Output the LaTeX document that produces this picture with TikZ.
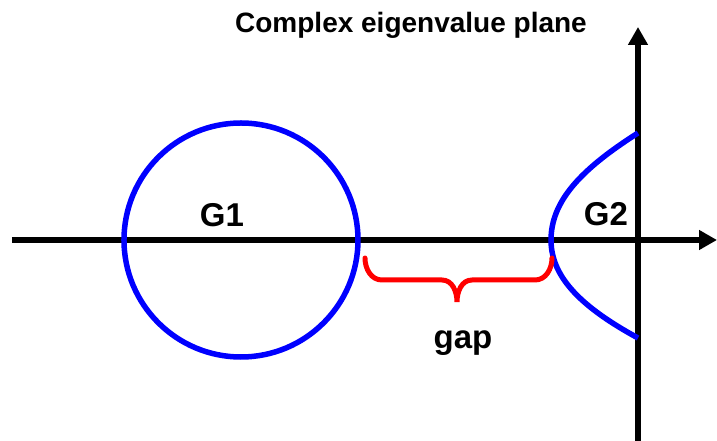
\documentclass[tikz,border=0pt]{standalone}
\usepackage{fontspec}
\setmainfont{Liberation Sans}
\usetikzlibrary{arrows.meta}
\begin{document}
\begin{tikzpicture}[x=1pt, y=1pt,
    axis/.style={line width=6pt, -{Triangle[length=18pt, width=19pt]}},
    region/.style={blue, line width=5.5pt},
    gapbrace/.style={red, line width=5pt, line cap=round},
    lbl/.style={font=\bfseries\fontsize{33}{35}\selectfont, anchor=base, inner sep=0pt}]
    \useasboundingbox (-638,-201) rectangle (79,240);

    % Axes
    \coordinate (west) at (-626,0);
    \coordinate (east) at (79,0);
    \coordinate (south) at (0,-205);
    \coordinate (north) at (0,213);
    \draw[axis] (west) -- (east);
    \draw[axis] (south) -- (north);
    \node[anchor=base, inner sep=0pt, font=\bfseries\fontsize{28}{30}\selectfont] (title) at (-227,207) {Complex eigenvalue plane};

    % Region G1
    \draw[region] (-397,0) circle (117);
    \node[lbl] (g1) at (-416,13) {G1};

    % Region G2
    \draw[region] (0,107) .. controls (-55,72) and (-87,40) .. (-87,0)
                          .. controls (-87,-38) and (-55,-68) .. (0,-98);
    \node[lbl] (g2) at (-32,14) {G2};

    % Gap between the two
    \draw[gapbrace] (-273,-18) to[out=-90, in=180] (-256,-40) -- (-196,-40)
                    to[out=0, in=90] (-181,-62) to[out=90, in=180] (-166,-40)
                    -- (-103,-40) to[out=0, in=-90] (-86,-18);
    \node[lbl] (gap) at (-175,-109) {gap};
\end{tikzpicture}
\end{document}
